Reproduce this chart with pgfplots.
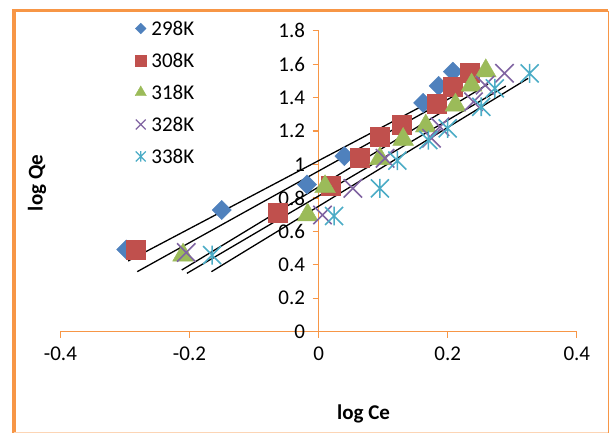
\documentclass[border=0pt]{standalone}
\usepackage{pgfplots}
\pgfplotsset{compat=1.18}
\usepackage{fontspec}
\setmainfont{Carlito}
\definecolor{exorange}{RGB}{247,150,70}
\definecolor{cA}{RGB}{79,129,189}
\definecolor{cB}{RGB}{192,80,77}
\definecolor{cC}{RGB}{155,187,89}
\definecolor{cD}{RGB}{128,100,162}
\definecolor{cE}{RGB}{75,172,198}
\pgfdeclareplotmark{xast}{%
  \pgfpathmoveto{\pgfqpoint{-\pgfplotmarksize}{-\pgfplotmarksize}}%
  \pgfpathlineto{\pgfqpoint{\pgfplotmarksize}{\pgfplotmarksize}}%
  \pgfpathmoveto{\pgfqpoint{-\pgfplotmarksize}{\pgfplotmarksize}}%
  \pgfpathlineto{\pgfqpoint{\pgfplotmarksize}{-\pgfplotmarksize}}%
  \pgfpathmoveto{\pgfqpoint{0pt}{-1.05\pgfplotmarksize}}%
  \pgfpathlineto{\pgfqpoint{0pt}{1.05\pgfplotmarksize}}%
  \pgfusepathqstroke}
\begin{document}
\begin{tikzpicture}
\begin{axis}[
  at={(0pt,0pt)}, anchor=south west,
  width=516.4pt, height=301pt, scale only axis,
  xmin=-0.4, xmax=0.4, ymin=0, ymax=1.8,
  axis lines=middle,
  axis line style={-, draw=exorange, line width=1.5pt},
  xtick={-0.4,-0.2,0,0.2,0.4},
  xticklabels={-0.4,-0.2,0,0.2,0.4},
  ytick={0,0.2,0.4,0.6,0.8,1,1.2,1.4,1.6,1.8},
  yticklabels={0,0.2,0.4,0.6,0.8,1,1.2,1.4,1.6,1.8},
  hide obscured x ticks=false, hide obscured y ticks=false,
  tick align=outside, major tick length=6pt,
  tick style={draw=exorange, line width=1.2pt},
  ticklabel style={font=\fontsize{21}{25}\selectfont, text=black},
  xticklabel style={yshift=-6pt},
  yticklabel style={xshift=-4pt},
  xlabel={\textbf{log Ce}}, ylabel={\textbf{log Qe}},
  xlabel style={at={(axis description cs:0.587,-0.272)}, anchor=center, font=\fontsize{21}{25}\selectfont},
  ylabel style={at={(axis description cs:-0.0453,0.494)}, anchor=center, rotate=90, font=\fontsize{21}{25}\selectfont},
  clip=false,
  legend cell align=left,
  legend style={draw=none, fill=none, at={(axis description cs:0.1385,1.0455)}, anchor=north west,
    font=\fontsize{21}{25}\selectfont, row sep=13.5pt, column sep=3pt,
    nodes={inner sep=2pt, text height=14.5pt, text depth=0pt}},
]
% legend images
\addlegendimage{only marks, mark=square*, mark size=3.8pt, mark options={rotate=45, fill=cA, draw=cA}}
\addlegendentry{298K}
\addlegendimage{only marks, mark=square*, mark size=5.5pt, mark options={fill=cB, draw=cB}}
\addlegendentry{308K}
\addlegendimage{only marks, mark=triangle*, mark size=6.5pt, mark options={fill=cC, draw=cC}}
\addlegendentry{318K}
\addlegendimage{only marks, mark=x, mark size=7pt, mark options={draw=cD, line width=1.3pt}}
\addlegendentry{328K}
\addlegendimage{only marks, mark=xast, mark size=5pt, mark options={draw=cE, line width=1.3pt}}
\addlegendentry{338K}
% data
\addplot[forget plot, only marks, mark=square*, mark size=6.8pt, mark options={rotate=45, fill=cA, draw=cA}] coordinates {
(-0.298,0.492) (-0.150,0.728) (-0.018,0.880) (0.040,1.050) (0.162,1.368) (0.186,1.470) (0.208,1.555)};
\addplot[forget plot, only marks, mark=square*, mark size=9.5pt, mark options={fill=cB, draw=cB}] coordinates {
(-0.283,0.488) (-0.064,0.714) (0.018,0.876) (0.063,1.043) (0.094,1.166) (0.128,1.236) (0.183,1.366) (0.208,1.465) (0.234,1.549)};
\addplot[forget plot, only marks, mark=triangle*, mark size=12pt, mark options={fill=cC, draw=cC}] coordinates {
(-0.210,0.458) (-0.017,0.698) (0.010,0.867) (0.095,1.035) (0.131,1.150) (0.166,1.230) (0.212,1.355) (0.237,1.475) (0.259,1.560)};
\addplot[forget plot, only marks, mark=x, mark size=13pt, mark options={draw=cD, line width=1.6pt}] coordinates {
(-0.205,0.474) (0.006,0.698) (0.053,0.857) (0.103,1.037) (0.175,1.157) (0.188,1.226) (0.240,1.375) (0.258,1.475) (0.288,1.545)};
\addplot[forget plot, only marks, mark=xast, mark size=9pt, mark options={draw=cE, line width=1.6pt}] coordinates {
(-0.165,0.458) (0.024,0.692) (0.095,0.857) (0.122,1.023) (0.170,1.146) (0.200,1.216) (0.252,1.345) (0.273,1.455) (0.327,1.545)};
% fitted lines
\addplot[forget plot, black, line width=1.3pt] coordinates {(-0.295,0.423) (0.208,1.446)};
\addplot[forget plot, black, line width=1.3pt] coordinates {(-0.281,0.359) (0.234,1.462)};
\addplot[forget plot, black, line width=1.3pt] coordinates {(-0.212,0.369) (0.2626,1.481)};
\addplot[forget plot, black, line width=1.3pt] coordinates {(-0.204,0.349) (0.290,1.469)};
\addplot[forget plot, black, line width=1.3pt] coordinates {(-0.166,0.359) (0.3246,1.515)};
\end{axis}
% chart frame
\draw[exorange, line width=4.5pt] (-46.2pt,-101pt) -- (-46.2pt,321.2pt);
\draw[exorange, line width=3pt] (-48.4pt,321.2pt) -- (547.9pt,321.2pt);
\draw[exorange, line width=1.5pt] (547.9pt,321.2pt) -- (547.9pt,-101pt);
\draw[exorange!40, line width=1pt] (-46.2pt,-101pt) -- (547.9pt,-101pt);
\path[use as bounding box] (-60.4pt,-102.3pt) rectangle (550.6pt,331.7pt);
\end{tikzpicture}
\end{document}
